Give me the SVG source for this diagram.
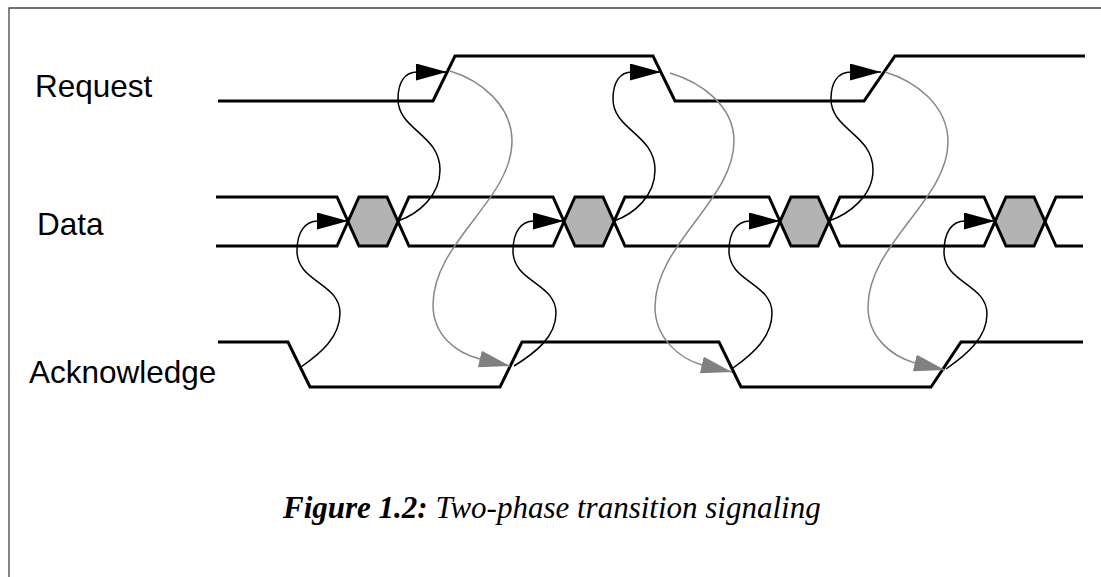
<svg xmlns="http://www.w3.org/2000/svg" width="1101" height="577" viewBox="0 0 1101 577">
  <defs>
    <style>
      .sig{fill:none;stroke:#000;stroke-width:3;stroke-linejoin:miter}
      .hex{fill:#b3b3b3;stroke:#000;stroke-width:3;stroke-linejoin:miter}
      .blk{fill:none;stroke:#000;stroke-width:1.5}
      .gry{fill:none;stroke:#888;stroke-width:1.5}
      .lbl{font-family:"Liberation Sans",Arial,sans-serif;font-size:31.5px;fill:#000}
      .cap{font-family:"Liberation Serif","Times New Roman",serif;font-size:31px;font-style:italic;fill:#000}
    </style>
    <marker id="ab" markerUnits="userSpaceOnUse" markerWidth="31" markerHeight="17" viewBox="0 0 31 17" refX="31" refY="8.5" orient="auto">
      <path d="M0,0 L31,8.5 L0,17 Z" fill="#000"/>
    </marker>
    <marker id="ag" markerUnits="userSpaceOnUse" markerWidth="31" markerHeight="17" viewBox="0 0 31 17" refX="31" refY="8.5" orient="auto">
      <path d="M0,0 L31,8.5 L0,17 Z" fill="#808080"/>
    </marker>
  </defs>
  <rect width="1101" height="577" fill="#fff"/>
  <path d="M9,577 V8 H1101" fill="none" stroke="#444" stroke-width="1.3"/>

  <g id="label-request"><text class="lbl" x="35" y="97">Request</text></g>
  <g id="label-data"><text class="lbl" x="37" y="235">Data</text></g>
  <g id="label-acknowledge"><text class="lbl" x="29" y="383">Acknowledge</text></g>

  <g id="request">
    <path class="sig" d="M218,101 H433 L455,56 H653 L675,101 H864 L895,56 H1085"/>
  </g>

  <g id="data">
    <path class="sig" d="M216,197 H337 L348,221.5 L337,246 H216"/>
    <polygon class="sig" points="398,221.5 409,197 553,197 564,221.5 553,246 409,246"/>
    <polygon class="sig" points="614,221.5 625,197 769,197 780,221.5 769,246 625,246"/>
    <polygon class="sig" points="829,221.5 840,197 984,197 995,221.5 984,246 840,246"/>
    <path class="sig" d="M1083,197 H1056 L1045,221.5 L1056,246 H1083"/>
    <polygon class="hex" points="348,221.5 359,197 387,197 398,221.5 387,246 359,246"/>
    <polygon class="hex" points="564,221.5 575,197 603,197 614,221.5 603,246 575,246"/>
    <polygon class="hex" points="780,221.5 791,197 818,197 829,221.5 818,246 791,246"/>
    <polygon class="hex" points="995,221.5 1006,197 1034,197 1045,221.5 1034,246 1006,246"/>
  </g>

  <g id="acknowledge">
    <path class="sig" d="M218,342 H288 L310,387 H500 L522,342 H719 L741,387 H931 L961,342 H1083"/>
  </g>

  <g id="connectors">
    <path class="blk" marker-end="url(#ab)" d="M301,367 C321,353 340,337 340,313 C340,283 297,282 297,251 C297,232 305,221 318,221 L348,221"/>
    <path class="blk" marker-end="url(#ab)" d="M398,221 C418,214 440,196 440,170 C440,134 398,130 398,99 C398,82 405,72 417,72 L447,72"/>
    <path class="gry" marker-end="url(#ag)" d="M450,71 C480,80 512,105 512,141 C512,200 433,242 433,305 C433,335 456,353 480,359 L510,366"/>
    <path class="blk" marker-end="url(#ab)" d="M514,366 C535,353 556,337 556,313 C556,283 513,282 513,251 C513,232 521,221 534,221 L564,221"/>
    <path class="blk" marker-end="url(#ab)" d="M614,221 C634,214 655,196 655,170 C655,134 613,130 613,99 C613,82 620,72 632,72 L661,72"/>
    <path class="gry" marker-end="url(#ag)" d="M670,73 C700,82 734,105 734,141 C734,200 655,244 655,307 C655,337 678,358 702,365 L732,372"/>
    <path class="blk" marker-end="url(#ab)" d="M733,368 C753,354 772,337 772,313 C772,283 729,282 729,251 C729,232 737,221 750,221 L780,221"/>
    <path class="blk" marker-end="url(#ab)" d="M829,221 C849,214 873,196 873,170 C873,134 831,130 831,99 C831,82 838,72 851,72 L881,72"/>
    <path class="gry" marker-end="url(#ag)" d="M885,72 C915,81 948,105 948,142 C948,200 868,244 868,307 C868,337 891,356 915,363 L945,370"/>
    <path class="blk" marker-end="url(#ab)" d="M946,369 C966,355 987,338 987,314 C987,284 944,283 944,252 C944,232 952,221 965,221 L995,221"/>
  </g>

  <g id="caption">
    <text class="cap" x="283" y="518"><tspan font-weight="bold">Figure 1.2:</tspan> Two-phase transition signaling</text>
  </g>
</svg>
